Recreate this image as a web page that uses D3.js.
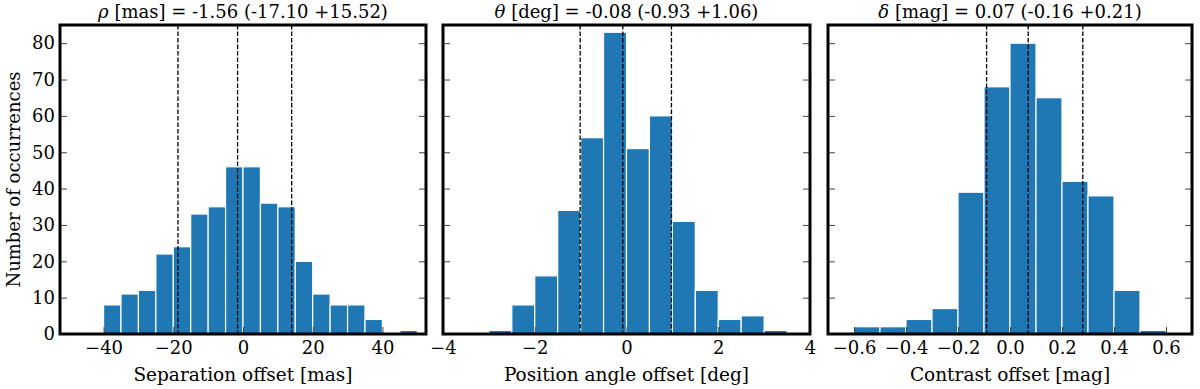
<!DOCTYPE html>
<html>
<head>
<meta charset="utf-8">
<script src="https://cdn.jsdelivr.net/npm/d3@7"></script>
<style>
  body { margin: 0; background: #fff; }
  svg text { font-family: "DejaVu Serif", serif; fill: #000; }
</style>
</head>
<body>
<svg id="chart" width="1200" height="389"></svg>
<script>
// separation offset histogram (mas)
var sepEdges = [-40, -35, -30, -25, -20, -15, -10, -5, 0, 5, 10, 15, 20, 25, 30, 35, 40, 45, 50];
var sepCounts = [8, 11, 12, 22, 24, 33, 35, 46, 46, 36, 35, 20, 11, 8, 8, 4, 0, 1];
var sepLines = [-18.66, -1.56, 13.96];
var sepTicks = [-40, -20, 0, 20, 40];

// position angle offset histogram (deg)
var paEdges = [-3, -2.5, -2, -1.5, -1, -0.5, 0, 0.5, 1, 1.5, 2, 2.5, 3, 3.5];
var paCounts = [1, 8, 16, 34, 54, 83, 51, 60, 31, 12, 4, 5, 1];
var paLines = [-1.01, -0.08, 0.98];
var paTicks = [-4, -2, 0, 2, 4];

// contrast offset histogram (mag)
var conEdges = [-0.6, -0.5, -0.4, -0.3, -0.2, -0.1, 0, 0.1, 0.2, 0.3, 0.4, 0.5, 0.6];
var conCounts = [2, 2, 4, 7, 39, 68, 80, 65, 42, 38, 12, 1];
var conLines = [-0.09, 0.07, 0.28];
var conTicks = [-0.6, -0.4, -0.2, 0, 0.2, 0.4, 0.6];

var yTicks = [0, 10, 20, 30, 40, 50, 60, 70, 80];

var svg = d3.select("#chart");
var plotTop = 25, plotBottom = 334;

var y = d3.scaleLinear().domain([0, 85]).range([plotBottom, plotTop]);

function fmtMinus(f) {
	return function (d) { return f(d).replace("-", "\u2212"); };
}

function buildPanel(p) {
	var x = d3.scaleLinear().domain(p.domain).range([p.left, p.right]);
	var g = svg.append("g");

	var bins = p.counts.map(function (c, i) {
		return { x0: p.edges[i], x1: p.edges[i + 1], n: c };
	});

	g.selectAll("rect.bar")
		.data(bins.filter(function (d) { return d.n > 0; }))
		.enter().append("rect")
		.attr("class", "bar")
		.attr("x", function (d) { return x(d.x0); })
		.attr("width", function (d) { return x(d.x1) - x(d.x0); })
		.attr("y", function (d) { return y(d.n); })
		.attr("height", function (d) { return y(0) - y(d.n); })
		.attr("fill", "#1f77b4")
		.attr("stroke", "#fff")
		.attr("stroke-width", 1.2);

	// median and interval lines
	g.selectAll("line.dash")
		.data(p.lines)
		.enter().append("line")
		.attr("x1", function (d) { return x(d); })
		.attr("x2", function (d) { return x(d); })
		.attr("y1", plotTop)
		.attr("y2", plotBottom)
		.attr("stroke", "#000")
		.attr("stroke-width", 1.3)
		.attr("stroke-dasharray", "4.5,2");

	// x axis, ticks pointing in
	var xa = g.append("g")
		.attr("transform", "translate(0," + plotBottom + ")")
		.call(d3.axisBottom(x).tickValues(p.ticks).tickFormat(fmtMinus(p.fmt))
			.tickSizeInner(-7).tickSizeOuter(0).tickPadding(7));
	xa.select(".domain").remove();
	xa.selectAll("text").style("font-size", "18px").style("font-family", "DejaVu Serif");

	// y axes left and right, ticks pointing in
	var yl = g.append("g")
		.attr("transform", "translate(" + p.left + ",0)")
		.call(d3.axisLeft(y).tickValues(yTicks).tickSizeInner(-7).tickSizeOuter(0).tickPadding(5));
	yl.select(".domain").remove();
	yl.selectAll("text").style("font-size", "18px").style("font-family", "DejaVu Serif");
	if (!p.yLabels) yl.selectAll("text").remove();

	var yr = g.append("g")
		.attr("transform", "translate(" + p.right + ",0)")
		.call(d3.axisRight(y).tickValues(yTicks).tickSizeInner(-7).tickSizeOuter(0));
	yr.select(".domain").remove();
	yr.selectAll("text").remove();

	g.selectAll(".tick line").attr("stroke", "#444").attr("stroke-width", 1);

	// frame
	g.append("rect")
		.attr("x", p.left)
		.attr("y", plotTop)
		.attr("width", p.right - p.left)
		.attr("height", plotBottom - plotTop)
		.attr("fill", "none")
		.attr("stroke", "#000")
		.attr("stroke-width", 3);

	var cx = (p.left + p.right) / 2;
	var t = g.append("text")
		.attr("x", cx)
		.attr("y", 18)
		.attr("text-anchor", "middle")
		.style("font-size", "18px");
	t.append("tspan").style("font-style", "italic").text(p.sym);
	t.append("tspan").text(p.title);

	g.append("text")
		.attr("x", cx)
		.attr("y", 381)
		.attr("text-anchor", "middle")
		.style("font-size", "18.5px")
		.text(p.xlabel);
}

buildPanel({
	left: 60, right: 426, domain: [-52.5, 52.5],
	edges: sepEdges, counts: sepCounts, lines: sepLines, ticks: sepTicks,
	fmt: d3.format("d"), yLabels: true,
	sym: "\u03c1", title: " [mas] = -1.56 (-17.10 +15.52)",
	xlabel: "Separation offset [mas]"
});

buildPanel({
	left: 443, right: 810, domain: [-4, 4],
	edges: paEdges, counts: paCounts, lines: paLines, ticks: paTicks,
	fmt: d3.format("d"), yLabels: false,
	sym: "\u03b8", title: " [deg] = -0.08 (-0.93 +1.06)",
	xlabel: "Position angle offset [deg]"
});

buildPanel({
	left: 828, right: 1192, domain: [-0.7, 0.7],
	edges: conEdges, counts: conCounts, lines: conLines, ticks: conTicks,
	fmt: d3.format(".1f"), yLabels: false,
	sym: "\u03b4", title: " [mag] = 0.07 (-0.16 +0.21)",
	xlabel: "Contrast offset [mag]"
});

svg.append("text")
	.attr("transform", "translate(20," + (plotTop + plotBottom) / 2 + ") rotate(-90)")
	.attr("text-anchor", "middle")
	.style("font-size", "18px")
	.text("Number of occurrences");
</script>
</body>
</html>
